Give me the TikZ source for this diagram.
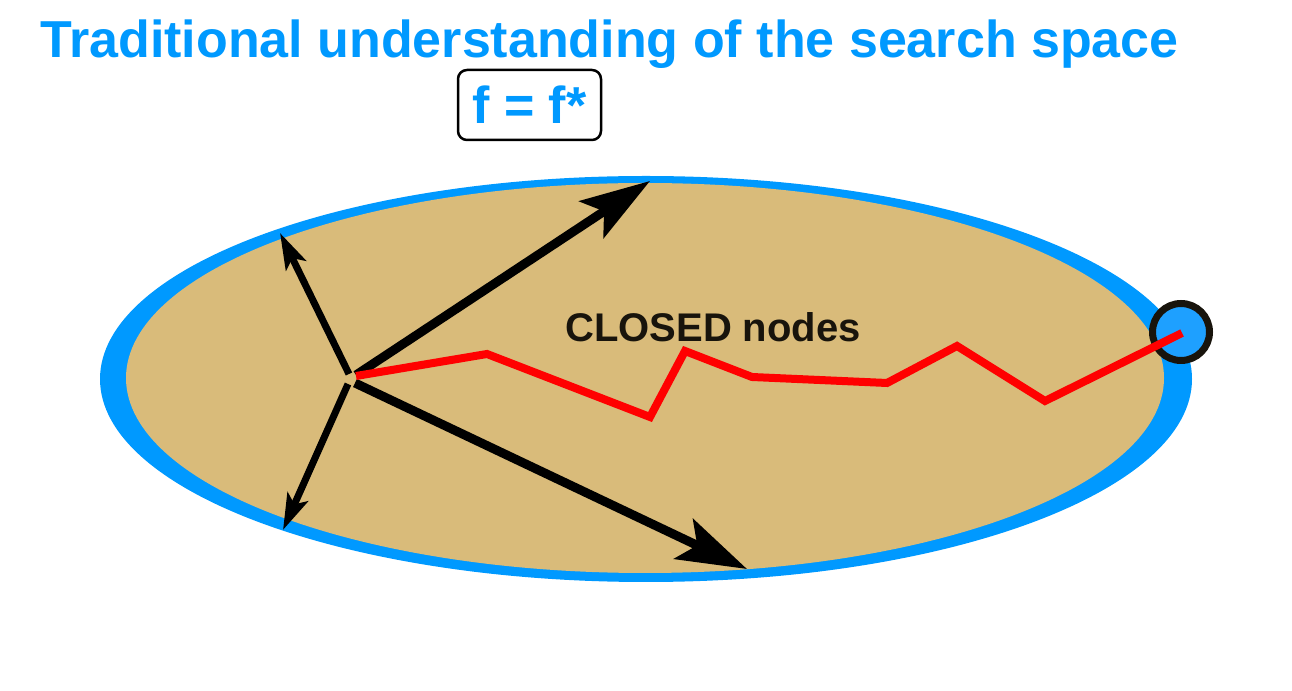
\documentclass[tikz,border=0pt]{standalone}
\usepackage{fontspec}
\setmainfont{Liberation Sans}
\usetikzlibrary{arrows.meta}
\definecolor{skyblue}{RGB}{0,153,255}
\definecolor{goalblue}{RGB}{30,160,255}
\definecolor{sand}{RGB}{217,187,122}
\definecolor{ink}{RGB}{24,20,12}
\begin{document}
\begin{tikzpicture}[>=latex,line join=bevel,
  thinarrow/.style={black,line width=7bp,-{Stealth[length=36bp,width=22bp,inset=8bp]}},
  thickarrow/.style={black,line width=9bp,-{Stealth[length=70bp,width=44bp,inset=15bp]}},
  bigtext/.style={font=\bfseries\fontsize{#1}{#1}\selectfont,inner sep=0pt},
]
%%
\useasboundingbox (0bp,0bp) rectangle (1292bp,691bp);
\fill [skyblue] (646bp,312bp) ellipse [x radius=546bp,y radius=203bp];
\fill [sand] (645bp,313bp) ellipse [x radius=519bp,y radius=195bp];
%
\node (node_title) at (40bp,633bp) [anchor=base west,bigtext=52bp,text=skyblue] {Traditional understanding of the search space};
  \node (node_fstar) at (529.5bp,586bp) [draw,line width=2.5bp,rounded corners=9bp,minimum width=143bp,minimum height=70bp,bigtext=52bp,text=skyblue] {f = f*};
  \node (node_closed) at (565bp,349bp) [anchor=base west,bigtext=40bp,text=ink] {CLOSED nodes};
  \node (node_goal) at (1181bp,359bp) [circle,draw=ink,fill=goalblue,line width=7bp,minimum size=57bp,inner sep=0pt] {};
  \coordinate (node_start) at (351bp,313bp);
%
\coordinate (p_ul) at (349bp,317bp);
  \coordinate (p_ur) at (356bp,316bp);
  \coordinate (p_ll) at (348bp,307bp);
  \coordinate (p_lr) at (355bp,308bp);
  \coordinate (e_ul) at (280bp,458bp);
  \coordinate (e_ur) at (650bp,510bp);
  \coordinate (e_ll) at (283bp,161bp);
  \coordinate (e_lr) at (747bp,122bp);
  \draw [thinarrow] (p_ul) -- (e_ul);
  \draw [thickarrow] (p_ur) -- (e_ur);
  \draw [thinarrow] (p_ll) -- (e_ll);
  \draw [thickarrow] (p_lr) -- (e_lr);
%
\draw [red,line width=8bp,line join=miter] (356bp,315bp) -- (487bp,337bp) -- (650bp,274bp) -- (685bp,340bp) -- (752bp,314bp) -- (887bp,308bp) -- (957bp,345bp) -- (1045bp,290bp) -- (1182bp,358bp);
%
\end{tikzpicture}
\end{document}
